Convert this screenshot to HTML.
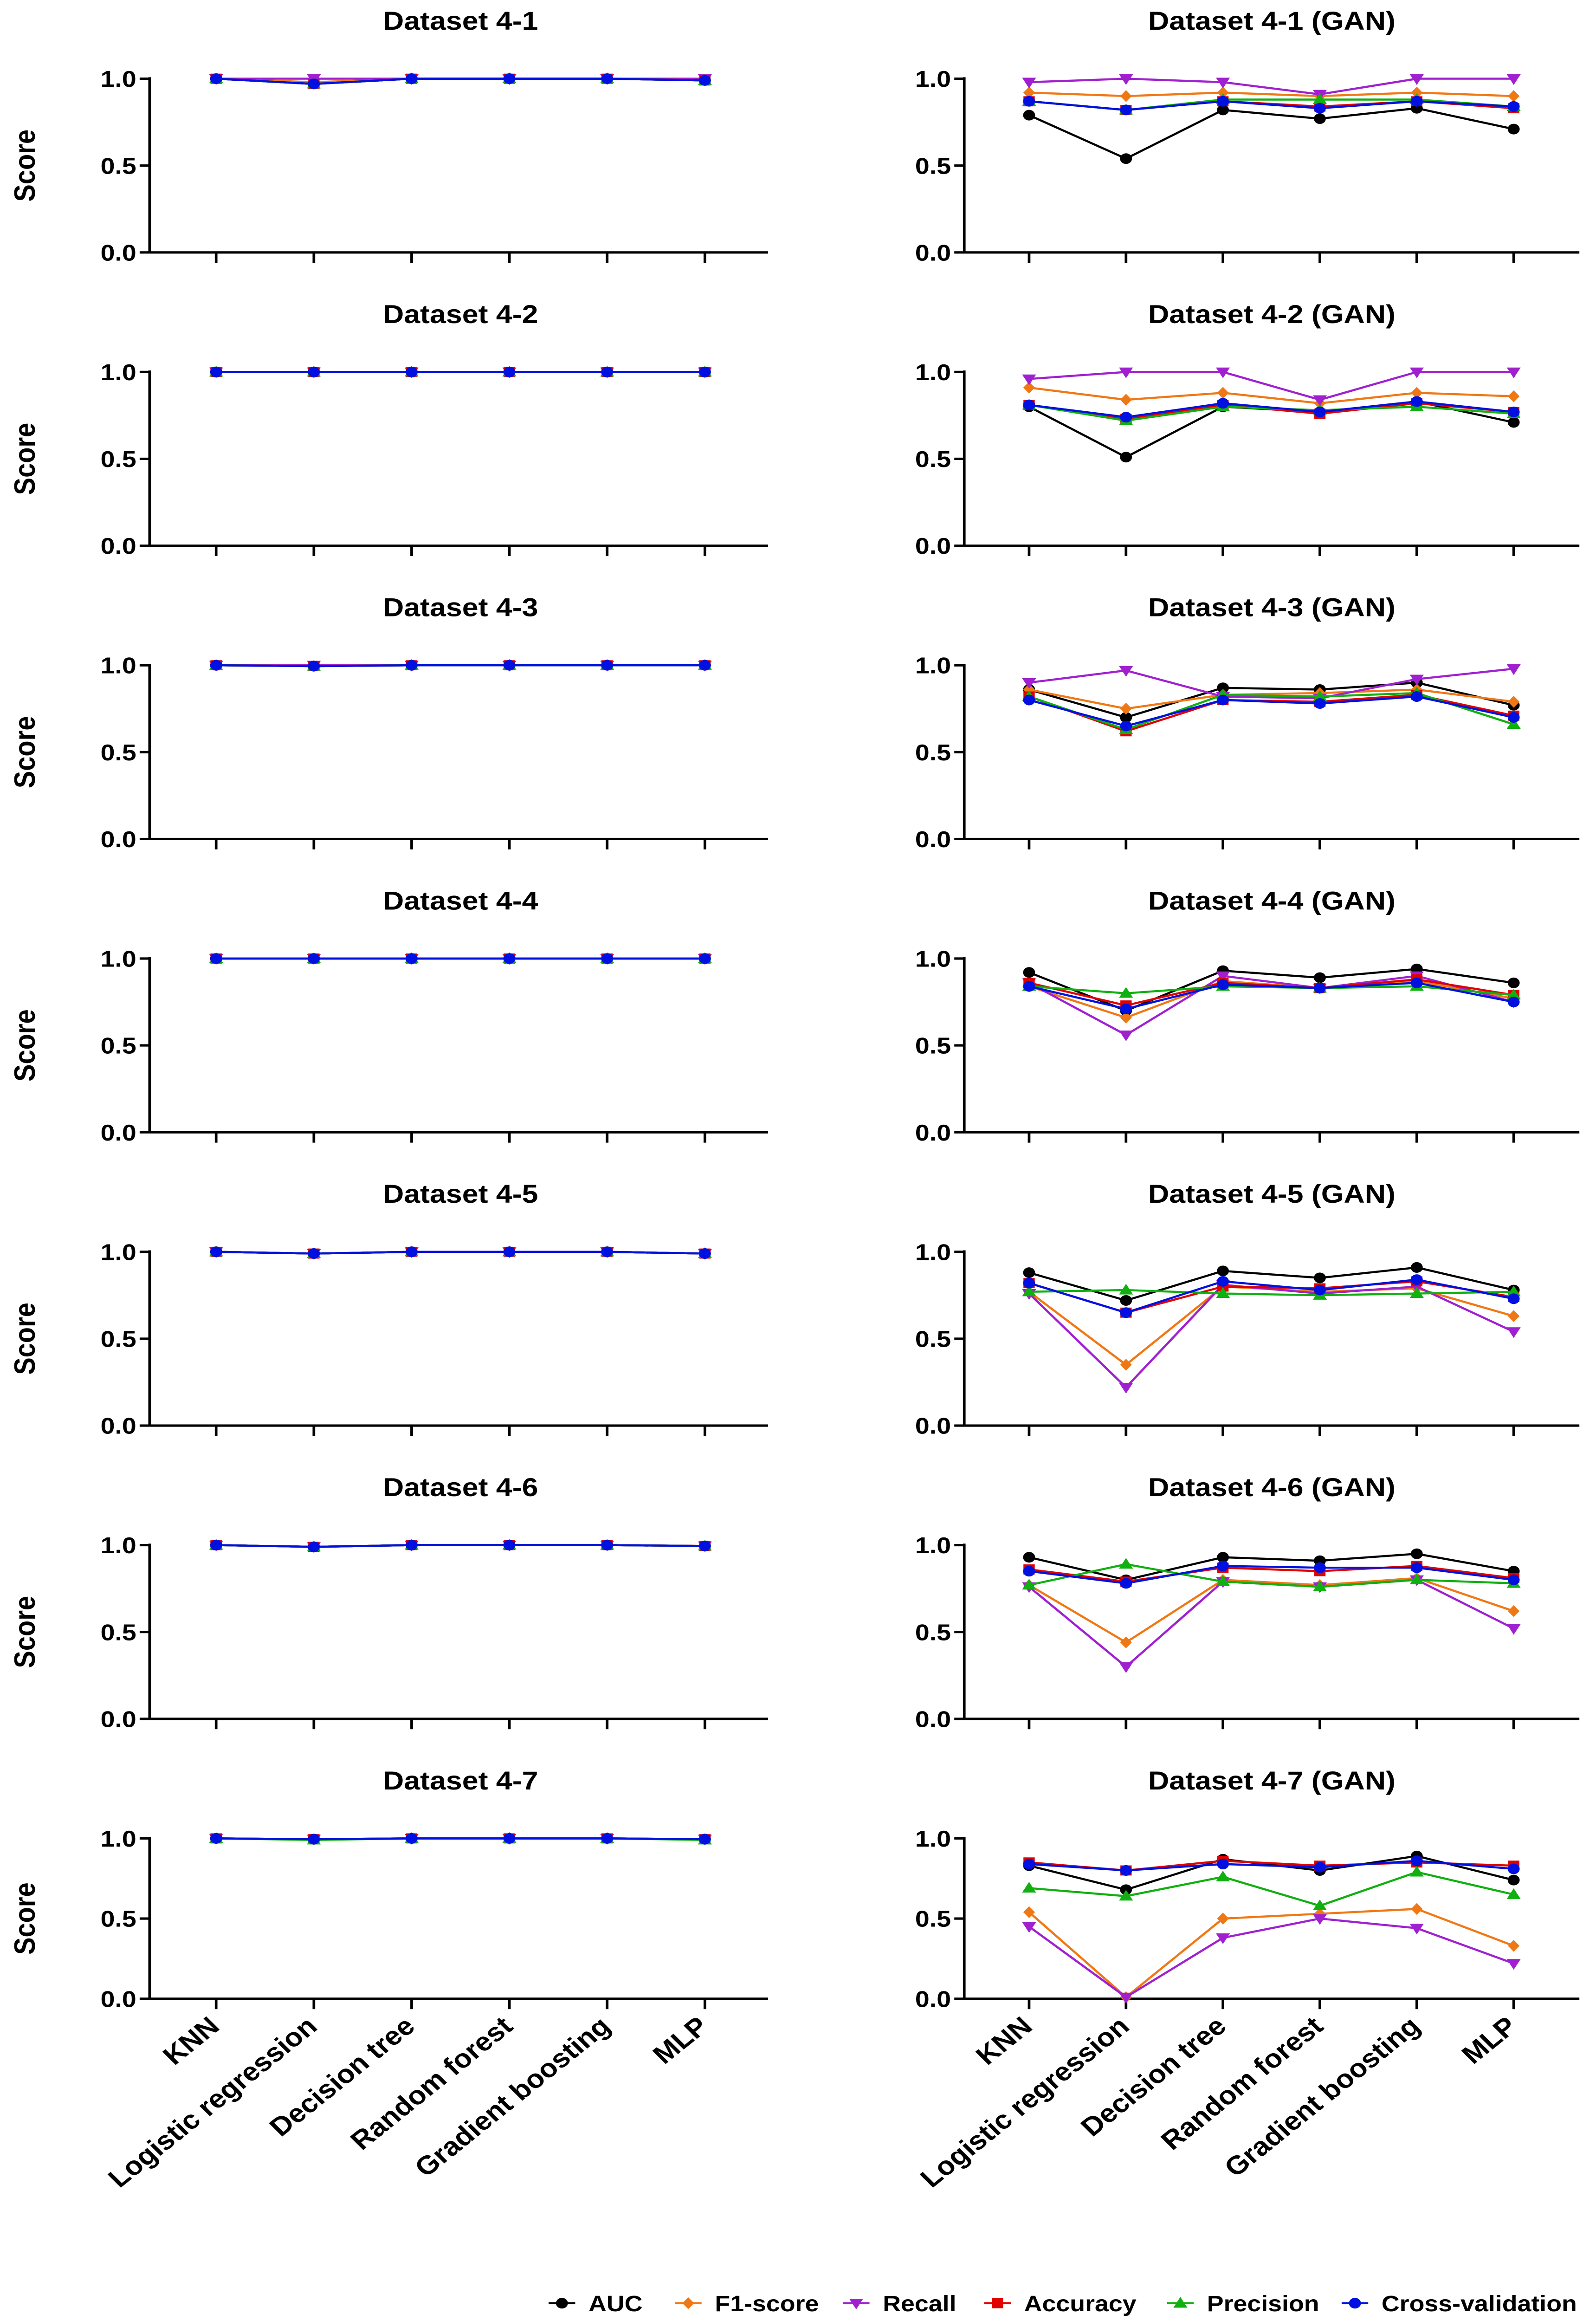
<!DOCTYPE html>
<html><head><meta charset="utf-8">
<style>
html,body{margin:0;padding:0;background:#fff;width:100%;height:100%;overflow:hidden;}
svg{display:block;position:fixed;left:0;top:0;width:100vw;height:100vh;}
text{font-family:"Liberation Sans",Arial,sans-serif;font-weight:bold;fill:#000;}
</style></head>
<body>
<svg id="chart" viewBox="0 0 960 1563" preserveAspectRatio="none" xmlns="http://www.w3.org/2000/svg"></svg>
<script>
const categories = ["KNN","Logistic regression","Decision tree","Random forest","Gradient boosting","MLP"];
const seriesNames = ["AUC","F1-score","Recall","Accuracy","Precision","Cross-validation"];
const seriesColors = ["#000000","#f07814","#a020d0","#e00000","#10b010","#0010e0"];
const seriesMarkers = ["circle","diamond","tridown","square","triup","circle"];
const yTicks = [0, 0.5, 1.0];
const yTickLabels = ["0.0","0.5","1.0"];
const panelTitlesLeft = ["Dataset 4-1","Dataset 4-2","Dataset 4-3","Dataset 4-4","Dataset 4-5","Dataset 4-6","Dataset 4-7"];
const panelTitlesRight = ["Dataset 4-1 (GAN)","Dataset 4-2 (GAN)","Dataset 4-3 (GAN)","Dataset 4-4 (GAN)","Dataset 4-5 (GAN)","Dataset 4-6 (GAN)","Dataset 4-7 (GAN)"];

const left41 = [[1,0.97,1,1,1,0.99],[1,0.98,1,1,1,0.99],[1,1,1,1,1,1],[1,0.97,1,1,1,0.99],[1,0.97,1,1,1,0.99],[1,0.97,1,1,1,0.99]];
const left42 = [[1,1,1,1,1,1],[1,1,1,1,1,1],[1,1,1,1,1,1],[1,1,1,1,1,1],[1,1,1,1,1,1],[1,1,1,1,1,1]];
const left43 = [[1,0.995,1,1,1,1],[1,0.995,1,1,1,1],[1,1,1,1,1,1],[1,0.995,1,1,1,1],[1,0.995,1,1,1,1],[1,0.995,1,1,1,1]];
const left44 = [[1,1,1,1,1,1],[1,1,1,1,1,1],[1,1,1,1,1,1],[1,1,1,1,1,1],[1,1,1,1,1,1],[1,1,1,1,1,1]];
const left45 = [[1,0.99,1,1,1,0.99],[1,0.99,1,1,1,0.99],[1,0.99,1,1,1,0.99],[1,0.99,1,1,1,0.99],[1,0.99,1,1,1,0.99],[1,0.99,1,1,1,0.99]];
const left46 = [[1,0.99,1,1,1,0.995],[1,0.99,1,1,1,0.995],[1,0.99,1,1,1,0.995],[1,0.99,1,1,1,0.995],[1,0.99,1,1,1,0.995],[1,0.99,1,1,1,0.995]];
const left47 = [[1,0.995,1,1,1,0.995],[1,0.995,1,1,1,0.995],[1,0.995,1,1,1,0.995],[1,0.995,1,1,1,0.995],[1,0.99,1,1,1,0.99],[1,0.995,1,1,1,0.995]];

const gan41 = [[0.79,0.54,0.82,0.77,0.83,0.71],[0.92,0.90,0.92,0.90,0.92,0.90],[0.98,1.0,0.98,0.91,1.0,1.0],[0.87,0.82,0.87,0.84,0.87,0.83],[0.87,0.82,0.88,0.88,0.88,0.84],[0.87,0.82,0.87,0.83,0.87,0.84]];
const gan42 = [[0.80,0.51,0.80,0.77,0.83,0.71],[0.91,0.84,0.88,0.82,0.88,0.86],[0.96,1.0,1.0,0.84,1.0,1.0],[0.81,0.73,0.81,0.76,0.82,0.77],[0.81,0.72,0.80,0.78,0.80,0.76],[0.81,0.74,0.82,0.77,0.83,0.77]];
const gan43 = [[0.86,0.70,0.87,0.86,0.90,0.77],[0.86,0.75,0.83,0.84,0.86,0.79],[0.90,0.97,0.82,0.81,0.92,0.98],[0.82,0.62,0.80,0.79,0.83,0.71],[0.82,0.63,0.83,0.82,0.84,0.66],[0.80,0.65,0.80,0.78,0.82,0.70]];
const gan44 = [[0.92,0.70,0.93,0.89,0.94,0.86],[0.84,0.66,0.87,0.83,0.87,0.77],[0.86,0.56,0.90,0.83,0.90,0.75],[0.86,0.73,0.86,0.83,0.88,0.79],[0.84,0.80,0.84,0.83,0.84,0.79],[0.84,0.71,0.85,0.83,0.86,0.75]];
const gan45 = [[0.88,0.72,0.89,0.85,0.91,0.78],[0.77,0.35,0.80,0.77,0.79,0.63],[0.76,0.22,0.81,0.76,0.80,0.54],[0.82,0.65,0.80,0.79,0.83,0.74],[0.77,0.78,0.76,0.75,0.76,0.77],[0.82,0.65,0.83,0.78,0.84,0.73]];
const gan46 = [[0.93,0.80,0.93,0.91,0.95,0.85],[0.77,0.44,0.80,0.77,0.81,0.62],[0.76,0.30,0.79,0.76,0.80,0.52],[0.86,0.79,0.87,0.85,0.88,0.81],[0.77,0.89,0.79,0.76,0.80,0.78],[0.85,0.78,0.88,0.87,0.87,0.80]];
const gan47 = [[0.83,0.68,0.87,0.80,0.89,0.74],[0.54,0.01,0.50,0.53,0.56,0.33],[0.45,0.01,0.38,0.50,0.44,0.22],[0.85,0.80,0.86,0.83,0.85,0.83],[0.69,0.64,0.76,0.58,0.79,0.65],[0.84,0.80,0.84,0.82,0.86,0.81]];

const leftData = [left41,left42,left43,left44,left45,left46,left47];
const ganData = [gan41,gan42,gan43,gan44,gan45,gan46,gan47];

const NS = "http://www.w3.org/2000/svg";
const svg = document.getElementById("chart");
function mk(tag, attrs, parent){
  const e = document.createElementNS(NS, tag);
  for (const k in attrs) e.setAttribute(k, attrs[k]);
  (parent||svg).appendChild(e);
  return e;
}
function marker(g, type, x, y, color){
  let e;
  const r = 3.6;
  if (type==="circle") e = mk("circle",{cx:x,cy:y,r:r,fill:color},g);
  else if (type==="square") e = mk("rect",{x:x-3.4,y:y-3.4,width:6.8,height:6.8,fill:color},g);
  else if (type==="diamond") e = mk("polygon",{points:`${x},${y-4} ${x+3.5},${y} ${x},${y+4} ${x-3.5},${y}`,fill:color},g);
  else if (type==="triup") e = mk("polygon",{points:`${x},${y-4.2} ${x+4.2},${y+3} ${x-4.2},${y+3}`,fill:color},g);
  else e = mk("polygon",{points:`${x},${y+4.2} ${x+4.2},${y-3} ${x-4.2},${y-3}`,fill:color},g);
  return e;
}

const panels = [
  {side:"left", x0:90, x1:462, tickX0:130, tickStep:58.8, titleX:277, data:leftData, titles:panelTitlesLeft},
  {side:"right", x0:580, x1:950, tickX0:619, tickStep:58.3, titleX:765, data:ganData, titles:panelTitlesRight}
];

panels.forEach(p=>{
  for (let i=0;i<7;i++){
    const yTop = 53 + 197.5*i;
    const yBot = i===6 ? 1346 : yTop + 117;
    const yScale = v => yBot - v*(yBot-yTop);
    const xScale = j => p.tickX0 + j*p.tickStep;
    const g = mk("g",{});
    
    
    const t = mk("text",{x:p.titleX,y:yTop-33,"text-anchor":"middle","font-size":17.5},g);
    t.textContent = p.titles[i];
    
    
    if (p.side==="left"){
      const s = mk("text",{x:0,y:0,"text-anchor":"middle","font-size":17.5,transform:`translate(21,${(yTop+yBot)/2}) rotate(-90)`},g);
      s.textContent = "Score";
      
      
    }
    const ya = mk("line",{x1:p.x0,y1:yTop-1,x2:p.x0,y2:yBot,stroke:"#000","stroke-width":1.6},g);
    
    
    const xa = mk("line",{x1:p.x0,y1:yBot,x2:p.x1,y2:yBot,stroke:"#000","stroke-width":1.6},g);
    
    
    yTicks.forEach((v,k)=>{
      const yy = yScale(v);
      mk("line",{x1:p.x0-6,y1:yy,x2:p.x0,y2:yy,stroke:"#000","stroke-width":1.6},g);
      const tl = mk("text",{x:p.x0-8,y:yy+5.5,"text-anchor":"end","font-size":15.5},g);
      tl.textContent = yTickLabels[k];
      
      
    });
    categories.forEach((c,j)=>{
      const xx = xScale(j);
      mk("line",{x1:xx,y1:yBot,x2:xx,y2:yBot+7,stroke:"#000","stroke-width":1.6},g);
    });
    if (i===6){
      categories.forEach((c,j)=>{
        const xx = xScale(j)+3;
        const tl = mk("text",{x:0,y:0,"text-anchor":"end","font-size":17.5,transform:`translate(${xx},${yBot+20}) rotate(-42)`},g);
        tl.textContent = c;
        
        
      });
    }
    p.data[i].forEach((vals,s)=>{
      const sg = mk("g",{},g);
      
      
      const pts = vals.map((v,j)=>`${xScale(j)},${yScale(v)}`).join(" ");
      mk("polyline",{points:pts,fill:"none",stroke:seriesColors[s],"stroke-width":1.4},sg);
      vals.forEach((v,j)=>{
        const m = marker(sg, seriesMarkers[s], xScale(j), yScale(v), seriesColors[s]);
        
        
      });
    });
  }
});

const legendX = [330,406,507,592,702,807];
const lg = mk("g",{});


seriesNames.forEach((n,s)=>{
  const x = legendX[s], y = 1551;
  const eg = mk("g",{},lg);
  
  
  mk("line",{x1:x,y1:y,x2:x+16,y2:y,stroke:seriesColors[s],"stroke-width":1.4},eg);
  marker(eg, seriesMarkers[s], x+8, y, seriesColors[s]);
  const t = mk("text",{x:x+24,y:y+5.5,"font-size":15},eg);
  t.textContent = n;
});
</script>
</body></html>
